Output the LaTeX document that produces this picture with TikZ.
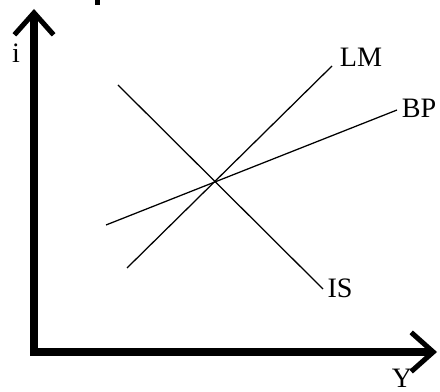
\documentclass[tikz,border=0pt]{standalone}
\usepackage{fontspec}
\setmainfont{Liberation Serif}
\usepackage{tikz}
\usetikzlibrary{positioning, arrows.meta}
\definecolor{ink}{HTML}{000000}
\definecolor{paper}{HTML}{FFFFFF}
\tikzset{
  axis/.style  = {line width=5.5pt, draw=ink, line cap=butt,
                  -{Straight Barb[length=0.55cm,width=0.98cm,line width=3.6pt]}},
  curve/.style = {line width=0.9pt, draw=ink},
  lbl/.style   = {font=\fontsize{20}{22}\selectfont, text=ink, inner sep=0pt},
}

\begin{document}
\begin{tikzpicture}[x=0.025cm, y=-0.025cm]

  \useasboundingbox[fill=paper] (0,0) rectangle (440,392);

  % axes
  \coordinate (O) at (34,352);
  \coordinate (itop) at (34,9);
  \coordinate (yend) at (437,352);
  \draw[axis] ([yshift=-2.75pt]O) -- (itop);
  \draw[axis] ([xshift=-2.75pt]O) -- (yend);
  \node[lbl] (i) at (16,53) {i};
  \node[lbl] (Y) at (402,378) {Y};

  % stray mark at the top edge
  \fill[ink] (95,0) rectangle (100,5);

  % curves
  \coordinate (LMa) at (127,268);
  \coordinate (LMb) at (332,66);
  \coordinate (ISa) at (118,85);
  \coordinate (ISb) at (323,289);
  \coordinate (BPa) at (106,225);
  \coordinate (BPb) at (397,110);
  \draw[curve] (LMa) -- (LMb);
  \draw[curve] (ISa) -- (ISb);
  \draw[curve] (BPa) -- (BPb);
  \node[lbl] (LM) at (361,57) {LM};
  \node[lbl] (IS) at (340,288) {IS};
  \node[lbl] (BP) at (419,108) {BP};

\end{tikzpicture}
\end{document}
